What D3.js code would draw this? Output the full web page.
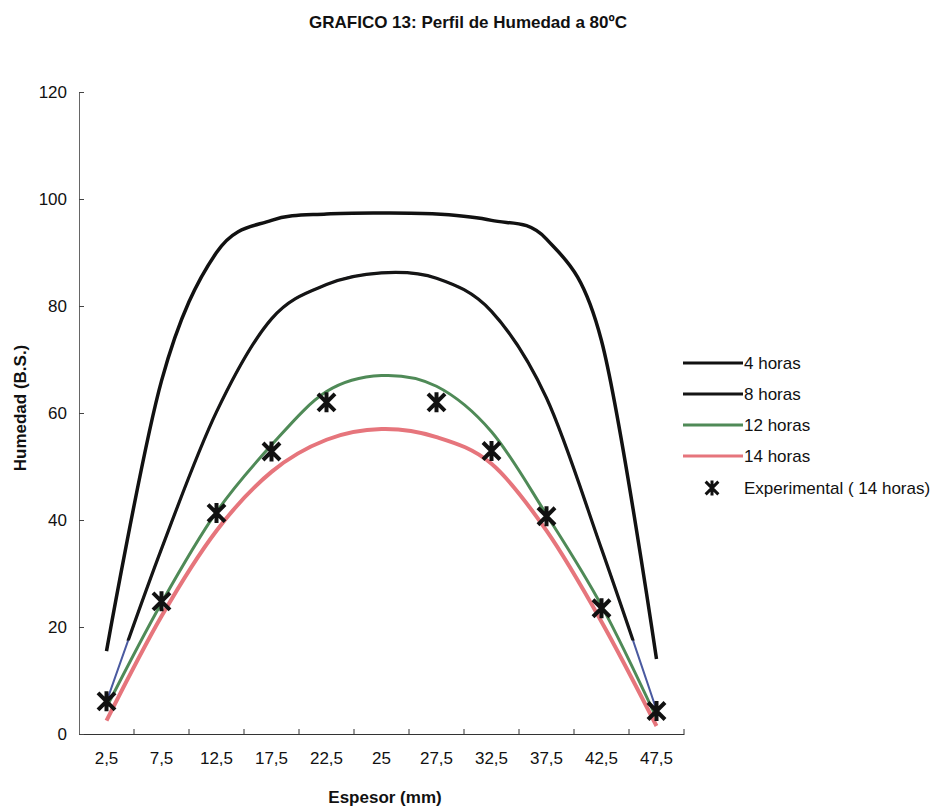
<!DOCTYPE html>
<html>
<head>
<meta charset="utf-8">
<script src="https://cdn.jsdelivr.net/npm/d3@7"></script>
<style>
  body { margin: 0; background: #fff; }
  text { font-family: 'Liberation Sans', Arial, sans-serif; fill: #111; }
</style>
</head>
<body>
<div class="chart"></div>
<script>
// Categories (espesor, mm) and series values
const categories = ['2,5', '7,5', '12,5', '17,5', '22,5', '25', '27,5', '32,5', '37,5', '42,5', '47,5'];
const horas4 = [15.5, 66, 90, 96, 97.2, 97.4, 97.2, 96, 92.5, 73.5, 14];
const horas8 = [6, 34.6, 60.2, 77.6, 84, 86.2, 85.2, 79, 62.8, 34.6, 4.5];
const horas12 = [5, 24.5, 41.5, 54, 64, 67, 65, 56.5, 41, 24, 3];
const horas14 = [2.5, 22, 38, 49, 55, 57, 55.5, 50.5, 38, 21, 1.5];
const experimental = [6.1, 24.8, 41.3, 52.8, 62, null, 62, 52.9, 40.7, 23.5, 4.3];
const yTicks = [0, 20, 40, 60, 80, 100, 120];

const seriesNames = ['4 horas', '8 horas', '12 horas', '14 horas'];

// Set size of SVG
const svgWidth = 941;
const svgHeight = 809;

const margin = { top: 92, right: 257, bottom: 75, left: 79 };
const width = svgWidth - margin.left - margin.right;
const height = svgHeight - margin.top - margin.bottom;

const svg = d3
  .select('.chart')
  .append('svg')
  .attr('width', svgWidth)
  .attr('height', svgHeight);

const chartGroup = svg
  .append('g')
  .attr('transform', `translate(${margin.left}, ${margin.top})`);

// Scales
const xScale = d3.scaleBand().domain(categories).range([0, width]).padding(0);
const yScale = d3.scaleLinear().domain([0, 120]).range([height, 0]);

// Series table built from the arrays
const series = [
  { name: seriesNames[0], values: horas4, color: '#111', width: 3.5 },
  { name: seriesNames[1], values: horas8, color: '#151515', width: 3.2 },
  { name: seriesNames[2], values: horas12, color: '#4f8a57', width: 3 },
  { name: seriesNames[3], values: horas14, color: '#e6757c', width: 4 },
];

// Axes
const bottomAxis = d3.axisBottom(xScale).tickSizeInner(-5).tickSizeOuter(0).tickPadding(18);
const leftAxis = d3.axisLeft(yScale).tickValues(yTicks).tickSizeInner(-5).tickSizeOuter(0).tickPadding(12);

const xAxis = chartGroup
  .append('g')
  .attr('transform', `translate(0, ${height})`)
  .call(bottomAxis);

// band ticks sit on the category boundaries, not the centres
xAxis.selectAll('.tick line')
  .attr('x1', xScale.bandwidth() / 2)
  .attr('x2', xScale.bandwidth() / 2);
xAxis.select('.domain').attr('stroke', '#333');
xAxis.selectAll('.tick line').attr('stroke', '#333');
xAxis.selectAll('text').attr('font-size', '17px').attr('fill', '#111');

const yAxis = chartGroup.append('g').call(leftAxis);
yAxis.select('.domain').attr('stroke', '#666');
yAxis.selectAll('.tick line').attr('stroke', '#444');
yAxis.selectAll('text').attr('font-size', '17px').attr('fill', '#111');

// Lines, Excel style smoothing
const line = d3
  .line()
  .x((d, i) => xScale(categories[i]) + xScale.bandwidth() / 2)
  .y((d) => yScale(d))
  .curve(d3.curveCatmullRom.alpha(0));

// the 8 horas line shows up thin and blue near both ends in the scan
chartGroup
  .append('clipPath')
  .attr('id', 'clip8')
  .append('rect')
  .attr('x', 0)
  .attr('y', 0)
  .attr('width', width)
  .attr('height', yScale(17.5));

chartGroup
  .append('path')
  .attr('fill', 'none')
  .attr('stroke', '#4a5aa0')
  .attr('stroke-width', 2)
  .attr('d', line(horas8));

chartGroup
  .selectAll('.serie')
  .data(series.slice().reverse())
  .enter()
  .append('path')
  .attr('fill', 'none')
  .attr('stroke', (d) => d.color)
  .attr('stroke-width', (d) => d.width)
  .attr('stroke-linejoin', 'round')
  .attr('clip-path', (d) => (d.name === '8 horas' ? 'url(#clip8)' : null))
  .attr('d', (d) => line(d.values));

// Star marker (X plus vertical bar)
const star = 'M-8.5,-8.5L8.5,8.5M-8.5,8.5L8.5,-8.5M0,-10L0,10';

const expData = experimental
  .map((v, i) => ({ cat: categories[i], v: v }))
  .filter((d) => d.v !== null);

chartGroup
  .selectAll('.star')
  .data(expData)
  .enter()
  .append('path')
  .attr('d', star)
  .attr('fill', 'none')
  .attr('stroke', '#111')
  .attr('stroke-width', 4)
  .attr('transform', (d) => `translate(${xScale(d.cat) + xScale.bandwidth() / 2}, ${yScale(d.v)})`);

// Title
svg
  .append('text')
  .attr('x', 468)
  .attr('y', 28)
  .attr('text-anchor', 'middle')
  .attr('font-size', '17px')
  .attr('font-weight', 'bold')
  .text('GRAFICO 13: Perfil de Humedad a 80ºC');

// Axis titles
svg
  .append('text')
  .attr('x', 385)
  .attr('y', 803)
  .attr('text-anchor', 'middle')
  .attr('font-size', '17px')
  .attr('font-weight', 'bold')
  .text('Espesor (mm)');

svg
  .append('text')
  .attr('transform', 'translate(26, 408) rotate(-90)')
  .attr('text-anchor', 'middle')
  .attr('font-size', '17px')
  .attr('font-weight', 'bold')
  .text('Humedad (B.S.)');

// Legend
const legend = svg.append('g').attr('transform', 'translate(683, 363)');

series.forEach((s, i) => {
  legend
    .append('line')
    .attr('x1', 0)
    .attr('x2', 60)
    .attr('y1', i * 31)
    .attr('y2', i * 31)
    .attr('stroke', s.color)
    .attr('stroke-width', Math.min(s.width, 3));
  legend
    .append('text')
    .attr('x', 61)
    .attr('y', i * 31)
    .attr('dy', '0.35em')
    .attr('font-size', '17px')
    .text(s.name);
});

legend
  .append('path')
  .attr('d', star)
  .attr('fill', 'none')
  .attr('stroke', '#111')
  .attr('stroke-width', 4)
  .attr('transform', `translate(29, ${4 * 31 + 1}) scale(0.75)`);

legend
  .append('text')
  .attr('x', 61)
  .attr('y', 4 * 31 + 1)
  .attr('dy', '0.35em')
  .attr('font-size', '17px')
  .text('Experimental ( 14 horas)');
</script>
</body>
</html>
